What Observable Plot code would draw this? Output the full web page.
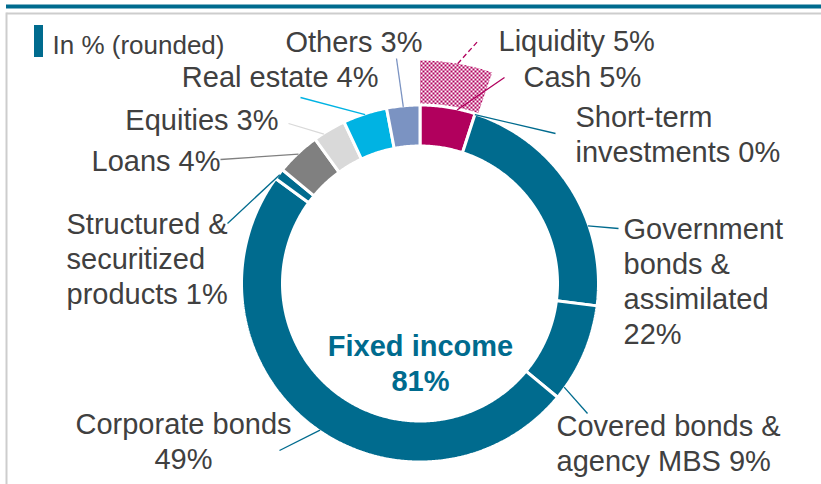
<!DOCTYPE html>
<html><head><meta charset="utf-8">
<script src="https://cdn.jsdelivr.net/npm/d3@7"></script>
<script src="https://cdn.jsdelivr.net/npm/@observablehq/plot@0.6"></script>
<style>body{margin:0;background:#fff;} svg{display:block}</style>
</head><body><div id="chart"></div>
<script>
// ---- data ----
const categories = ["Cash", "Short-term investments", "Government bonds & assimilated", "Covered bonds & agency MBS", "Corporate bonds", "Structured & securitized products", "Loans", "Equities", "Real estate", "Others"];
const values = [5, 0, 22, 9, 49, 1, 4, 3, 4, 3];
const labels = ["Cash 5%", "Short-term\ninvestments 0%", "Government\nbonds &\nassimilated\n22%", "Covered bonds &\nagency MBS 9%", "Corporate bonds\n49%", "Structured &\nsecuritized\nproducts 1%", "Loans 4%", "Equities 3%", "Real estate 4%", "Others 3%"];
const liquidityLabel = "Liquidity 5%";
const liquidityValue = 5;
const groupLabel = "Fixed income\n81%";
const legendLabel = "In % (rounded)";

// ---- styles / layout ----
const TEAL = "#006B8E", MAG = "#B1005D";
const colors = [MAG, TEAL, TEAL, TEAL, TEAL, TEAL, "#808080", "#D9D9D9", "#00B3E3", "#7B93C2"];
const W = 821, H = 484, cx = 419.5, cy = 283, R = 178.5, R0 = 137.5;
const HATCH_IN = 178, HATCH_OUT = 223;
// label layout: x, baseline of last line, anchor ; leader: t along slice, end point
const layout = [
  {x: 523, y: 86, anchor: "start", t: 0.67, lx: 504, ly: 77},
  {x: 575, y: 161, anchor: "start", t: 0, lx: 555, ly: 133},
  {x: 623, y: 343, anchor: "start", t: 0.67, lx: 618, ly: 228},
  {x: 556, y: 470, anchor: "start", t: 0.88, lx: 587, ly: 413},
  {x: 183, y: 468, anchor: "middle", t: 0.48, lx: 279, ly: 450},
  {x: 66, y: 303, anchor: "start", t: 0.5, lx: 227, ly: 223},
  {x: 220, y: 170, anchor: "end", t: 0.5, lx: 220, ly: 159},
  {x: 278, y: 129, anchor: "end", t: 0.3, lx: 288, ly: 123},
  {x: 378, y: 86, anchor: "end", t: 0.5, lx: 300, ly: 97},
  {x: 422, y: 51, anchor: "end", t: 0.5, lx: 396, ly: 58}
];

const arcs = d3.pie().sort(null).value(d => d.value)(categories.map((c, i) => ({name: c, value: values[i], i})));
const pt = (a, rad) => [cx + rad * Math.sin(a), cy - rad * Math.cos(a)];
function ring(key, a0, a1, rin, rout, fill) {
  const n = Math.max(2, Math.ceil((a1 - a0) / (Math.PI / 360)));
  const pts = [];
  for (let k = 0; k <= n; k++) pts.push(pt(a0 + (a1 - a0) * k / n, rout));
  for (let k = n; k >= 0; k--) pts.push(pt(a0 + (a1 - a0) * k / n, rin));
  return pts.map(([x, y]) => ({key, x, y, fill}));
}
const slicePts = arcs.filter(a => a.endAngle > a.startAngle).flatMap(a => ring(a.data.name, a.startAngle, a.endAngle, R0, R, colors[a.data.i]));
const liqArc = d3.pie().sort(null)([liquidityValue, 100 - liquidityValue])[0];
const hatchPts = ring("Liquidity", liqArc.startAngle, liqArc.endAngle * 1.05, HATCH_IN, HATCH_OUT, "url(#checks)");

const leaders = arcs.map(a => {
  const L = layout[a.data.i];
  const ang = a.startAngle + L.t * (a.endAngle - a.startAngle);
  const [x1, y1] = pt(ang, R - 1);
  return {x1, y1, x2: L.lx, y2: L.ly, stroke: colors[a.data.i]};
});
const liqAng = liqArc.startAngle + 0.54 * (liqArc.endAngle - liqArc.startAngle);
const [lqx, lqy] = pt(liqAng, HATCH_OUT);
const liqLeader = [{x1: lqx, y1: lqy, x2: 478, y2: 40}];

const labelRows = arcs.map(a => ({text: labels[a.data.i], ...layout[a.data.i]}));
const FONT = "'Liberation Sans', Arial, sans-serif";
const txt = (anchor) => Plot.text(labelRows.filter(d => d.anchor === anchor), {x: "x", y: "y", text: "text", textAnchor: anchor, lineAnchor: "bottom", lineHeight: 1.2, fontSize: 29, fill: "#404040"});

const svg = Plot.plot({
  width: W, height: H, margin: 0,
  style: {fontFamily: FONT, background: "#fff"},
  x: {type: "linear", domain: [0, W], range: [0, W], axis: null},
  y: {type: "linear", domain: [0, H], range: [0, H], axis: null},
  color: {type: "identity"},
  marks: [
    // frame
    Plot.rect([0], {x1: 6, x2: W, y1: 4.5, y2: 8.5, fill: TEAL}),
    Plot.link([0], {x1: 6, x2: W, y1: 13, y2: 13, stroke: "#CDCDCD", strokeWidth: 2}),
    Plot.link([0], {x1: 6, x2: 6, y1: 12, y2: H, stroke: "#CDCDCD", strokeWidth: 2}),
    // legend
    Plot.rect([0], {x1: 34, x2: 43, y1: 25, y2: 57, fill: TEAL}),
    Plot.text([legendLabel], {x: 52, y: 53, text: d => d, textAnchor: "start", lineAnchor: "bottom", fontSize: 26, fill: "#404040"}),
    // liquidity hatch
    Plot.line(hatchPts, {x: "x", y: "y", z: "key", fill: "fill", stroke: "none", curve: "linear-closed"}),
    // donut
    Plot.line(slicePts, {x: "x", y: "y", z: "key", fill: "fill", stroke: "#fff", strokeWidth: 3, strokeLinejoin: "miter", curve: "linear-closed"}),
    // leaders
    Plot.link(leaders, {x1: "x1", y1: "y1", x2: "x2", y2: "y2", stroke: "stroke", strokeWidth: 1.3}),
    Plot.link(liqLeader, {x1: "x1", y1: "y1", x2: "x2", y2: "y2", stroke: MAG, strokeWidth: 1.3, strokeDasharray: "5,3"}),
    // labels
    txt("start"), txt("end"), txt("middle"),
    Plot.text([liquidityLabel], {x: 498, y: 50, text: d => d, textAnchor: "start", lineAnchor: "bottom", fontSize: 29, fill: "#404040"}),
    Plot.text([groupLabel], {x: 420, y: 390, text: d => d, textAnchor: "middle", lineAnchor: "bottom", lineHeight: 1.2, fontSize: 29, fontWeight: "bold", fill: TEAL})
  ]
});
const ns = "http://www.w3.org/2000/svg";
const defs = document.createElementNS(ns, "defs");
defs.innerHTML = `<pattern id="checks" width="4" height="4" patternUnits="userSpaceOnUse"><rect width="4" height="4" fill="#fff"/><rect width="2" height="2" fill="${MAG}"/><rect x="2" y="2" width="2" height="2" fill="${MAG}"/></pattern>`;
svg.prepend(defs);
document.getElementById("chart").appendChild(svg);
</script>
</body></html>
